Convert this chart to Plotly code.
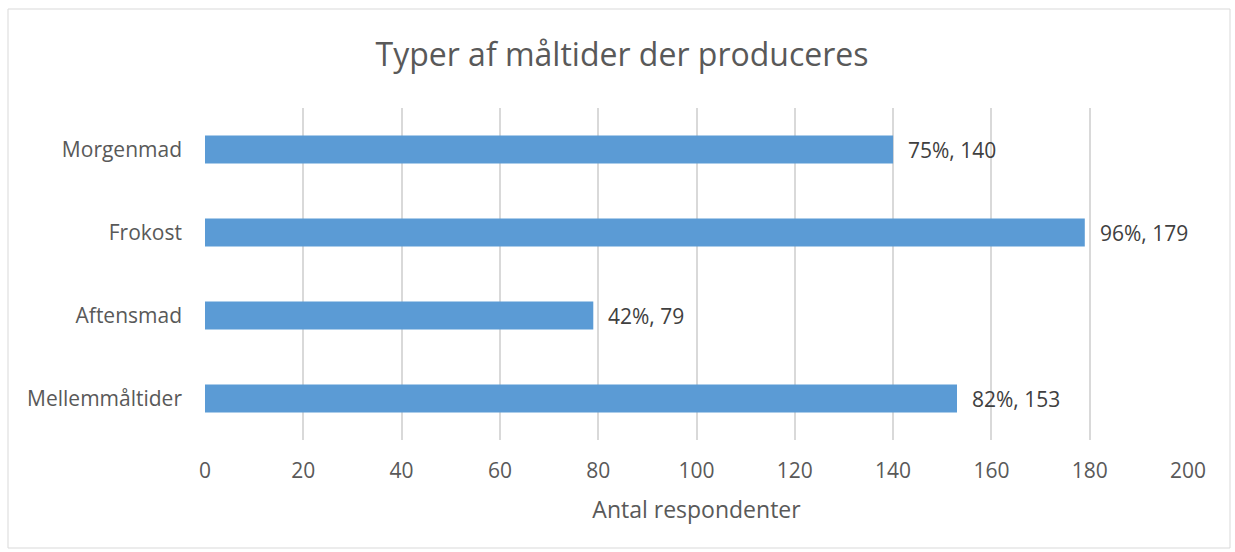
import plotly.graph_objects as go

categories = ["Morgenmad", "Frokost", "Aftensmad", "Mellemmåltider"]
counts = [140, 179, 79, 153]
percents = ["75%", "96%", "42%", "82%"]
x_ticks = [0, 20, 40, 60, 80, 100, 120, 140, 160, 180, 200]

W, H = 1235, 552
L, R, T, B = 205, 1188, 108, 440

FONT = "'Open Sans', sans-serif"
TXT = "#595959"

fig = go.Figure()
fig.add_trace(go.Bar(
    y=categories, x=counts, orientation="h",
    marker=dict(color="#5B9BD5", line=dict(width=0)),
    width=0.34, hoverinfo="skip",
))

labels = [f"{p}, {c}" for p, c in zip(percents, counts)]
for cat, c, lab in zip(categories, counts, labels):
    fig.add_annotation(x=c, y=cat, text=lab, showarrow=False, xanchor="left",
                       xshift=13, font=dict(family=FONT, size=21, color="#404040"))

pw = R - L
ph = B - T

def pxx(p):
    return (p - L) / pw

def pyy(p):
    return (B - p) / ph

fig.add_shape(type="rect", xref="paper", yref="paper",
              x0=pxx(8), x1=pxx(1230), y0=pyy(548), y1=pyy(9),
              line=dict(color="#D9D9D9", width=1), fillcolor="rgba(0,0,0,0)", layer="below")

fig.update_layout(
    width=W, height=H,
    margin=dict(l=L, r=W - R, t=T, b=H - B, pad=0),
    paper_bgcolor="white", plot_bgcolor="white",
    showlegend=False,
    title=dict(text="Typer af måltider der produceres", x=622 / W, xref="container",
               xanchor="center", y=1 - 55 / H, yref="container", yanchor="middle",
               font=dict(family=FONT, size=32, color=TXT)),
    font=dict(family=FONT, color=TXT),
    xaxis=dict(range=[0, 200], tickvals=x_ticks, showgrid=True, gridcolor="#D9D9D9",
               gridwidth=1.5, zeroline=False, showline=False, ticks="",
               tickfont=dict(size=21, color=TXT), ticklabelstandoff=16,
               title=dict(text="Antal respondenter", font=dict(size=23, color=TXT), standoff=18),
               fixedrange=True),
    yaxis=dict(autorange="reversed", showgrid=False, zeroline=False, showline=False,
               ticks="", tickfont=dict(size=21, color=TXT), ticklabelstandoff=22,
               fixedrange=True),
)

fig.write_html("out.html", config={"displayModeBar": False},
               post_script="document.body.style.margin='0';document.body.style.overflow='hidden';")
